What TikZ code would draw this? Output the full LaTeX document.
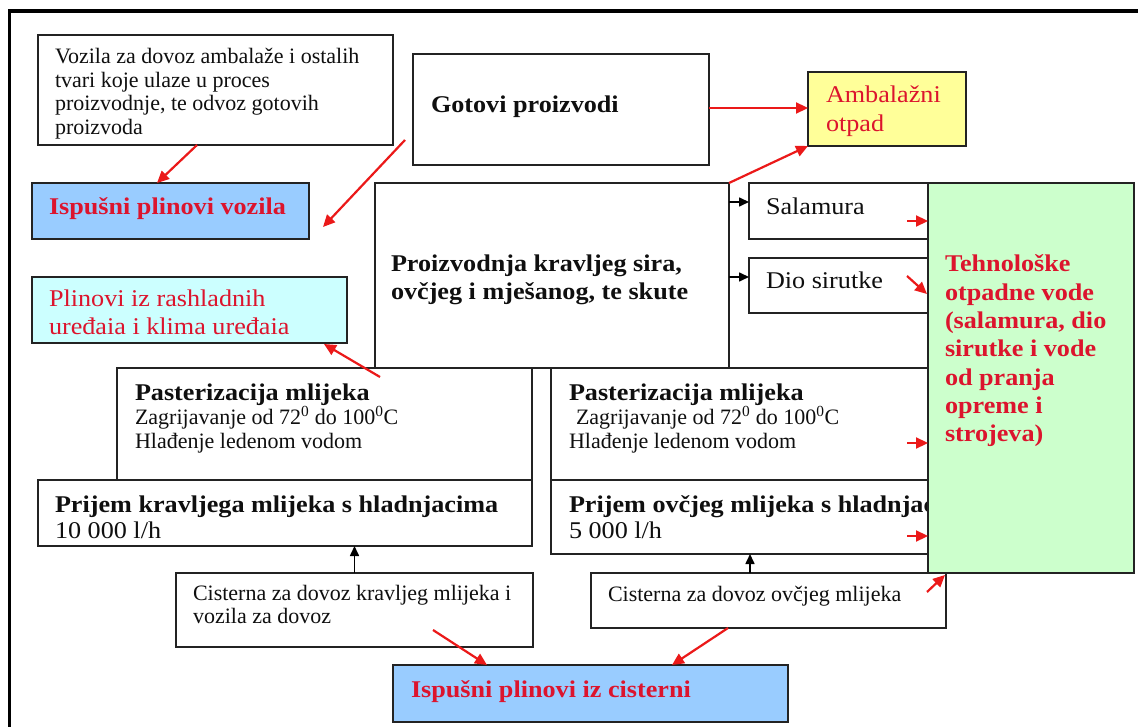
\documentclass[tikz,border=0pt]{standalone}
\usepackage{fontspec}
\setmainfont{Liberation Serif}
\newfontfamily\bigfam[FakeStretch=1.09]{Liberation Serif}
\usetikzlibrary{arrows.meta,calc}
\definecolor{bordc}{RGB}{35,35,35}
\definecolor{txtc}{RGB}{15,15,15}
\definecolor{redt}{RGB}{220,20,45}
\definecolor{arrr}{RGB}{235,25,25}
\definecolor{fblue}{RGB}{153,204,255}
\definecolor{fcyan}{RGB}{204,255,255}
\definecolor{fyel}{RGB}{255,255,153}
\definecolor{fgrn}{RGB}{204,255,204}
\newcommand\smf{\fontsize{22}{23.5}\selectfont}
\newcommand\bgf{\bigfam\fontsize{24}{28}\selectfont}
\newcommand\vlines[2]{\vtop{\baselineskip=#1pt\lineskiplimit=-100pt\relax #2}}
\tikzset{
  bx/.style={draw=bordc, line width=1.8pt, rectangle, inner sep=0pt, outer sep=0pt, anchor=north west},
  sz/.style 2 args={minimum width=#1pt, minimum height=#2pt},
  txt/.style={anchor=base west, inner sep=0pt, outer sep=0pt, text=txtc},
  rtxt/.style={txt, text=redt},
  rarr/.style={draw=arrr, line width=2.2pt, -{Triangle[length=12pt,width=11pt]}},
  barr/.style={draw=black, line width=1.6pt, -{Triangle[length=10pt,width=9pt]}},
}
\begin{document}
\begin{tikzpicture}[x=1pt,y=-1pt]
\useasboundingbox (0,0) rectangle (1138,727);
\fill[white] (0,0) rectangle (1138,727);
% frame
\draw[line width=3.5pt] (9.5,727) -- (9.5,11) -- (1138,11);

% boxes
\node[bx, sz={355}{110}] (vozila) at (38,35) {};
\node[bx, sz={296}{111}] (gotovi) at (413,54) {};
\node[bx, sz={158}{74}, fill=fyel] (ambal) at (808,72) {};
\node[bx, sz={277}{56}, fill=fblue] (ispv) at (32,183) {};
\node[bx, sz={315}{66}, fill=fcyan] (plin) at (32,277) {};
\node[bx, sz={354}{185}] (main) at (375,183) {};
\node[bx, sz={179}{56}] (salam) at (749,183) {};
\node[bx, sz={179}{55}] (dio) at (749,258) {};
\node[bx, sz={415}{112}] (pastL) at (117,368) {};
\node[bx, sz={494}{66}] (prijL) at (38,480) {};
\node[bx, sz={377}{112}] (pastR) at (551,368) {};
\node[bx, sz={377}{74}] (prijR) at (551,480) {};
\node[bx, sz={357}{74}] (cistL) at (176,573) {};
\node[bx, sz={395}{57}, fill=fblue] (ispc) at (393,665) {};

% texts
\node[txt] (tvoz) at (55,64) {\smf\vlines{23.5}{\hbox{Vozila za dovoz ambalaže i ostalih}\hbox{tvari koje ulaze u proces}\hbox{proizvodnje, te odvoz gotovih}\hbox{proizvoda}}};
\node[txt] (tgot) at (431,113) {\bgf\bfseries Gotovi proizvodi};
\node[rtxt] (tamb) at (826,103) {\bgf\vlines{29}{\hbox{Ambalažni}\hbox{otpad}}};
\node[rtxt] (tispv) at (49,215) {\bgf\bfseries Ispušni plinovi vozila};
\node[rtxt] (tplin) at (49,307) {\bgf\vlines{28}{\hbox{Plinovi iz rashladnih}\hbox{uređaia i klima uređaia}}};
\node[txt] (tmain) at (391,272) {\bgf\bfseries\vlines{28}{\hbox{Proizvodnja kravljeg sira,}\hbox{ovčjeg i mješanog, te skute}}};
\node[txt] (tsal) at (766,215) {\bgf Salamura};
\node[txt] (tdio) at (766,289) {\bgf Dio sirutke};
\node[txt] (tpl1) at (135,400) {\bgf\bfseries Pasterizacija mlijeka};
\node[txt] (tpl2) at (135,424) {\smf\vlines{24}{\hbox{Zagrijavanje od 72\textsuperscript{0} do 100\textsuperscript{0}C}\hbox{Hlađenje ledenom vodom}}};
\node[txt] (tpk1) at (55,512) {\bgf\bfseries Prijem kravljega mlijeka s hladnjacima};
\node[txt] (tpk2) at (55,538) {\bgf 10 000 l/h};
\node[txt] (tpr1) at (569,400) {\bgf\bfseries Pasterizacija mlijeka};
\node[txt] (tpr2) at (569,424) {\smf\vlines{24}{\hbox{\kern7pt Zagrijavanje od 72\textsuperscript{0} do 100\textsuperscript{0}C}\hbox{Hlađenje ledenom vodom}}};
\node[txt] (tpo1) at (569,512) {\bgf\bfseries Prijem ovčjeg mlijeka s hladnjacima};
\node[txt] (tpo2) at (569,538) {\bgf 5 000 l/h};
\node[txt] (tcl) at (193,600) {\smf\vlines{23.5}{\hbox{Cisterna za dovoz kravljeg mlijeka i}\hbox{vozila za dovoz}}};
\node[rtxt] (tispc) at (411,697) {\bgf\bfseries Ispušni plinovi iz cisterni};

% green box on top
\node[bx, sz={206}{390}, fill=fgrn] (green) at (928,183) {};
\node[rtxt] (tgrn) at (945,272) {\bgf\bfseries\vlines{28.3}{\hbox{Tehnološke}\hbox{otpadne vode}\hbox{(salamura, dio}\hbox{sirutke i vode}\hbox{od pranja}\hbox{opreme i}\hbox{strojeva)}}};

\node[bx, sz={355}{55}] (cistR) at (591,573) {};
\node[txt] (tcr) at (608,601) {\smf Cisterna za dovoz ovčjeg mlijeka};

% connectors
\draw[rarr] ([xshift=-18.5pt]vozila.south) -- ([xshift=-13.5pt]ispv.north);
\draw[rarr] ([xshift=-8pt,yshift=-30.5pt]gotovi.west) -- ([xshift=14pt,yshift=-16pt]ispv.east);
\coordinate (g1) at ([yshift=1.5pt]gotovi.east);
\draw[rarr] (g1) -- (g1 -| ambal.west);
\draw[rarr] (main.north east) -- (ambal.south west);
\coordinate (s1) at ([yshift=9pt]salam.west);
\coordinate (d1) at ([yshift=8.5pt]dio.west);
\draw[barr] (s1 -| main.east) -- (s1);
\draw[barr] (d1 -| main.east) -- (d1);
\draw[rarr] ([xshift=-21pt,yshift=-10pt]salam.east) -- ([yshift=-10pt]salam.east);
\draw[rarr] ([xshift=-21pt,yshift=9.5pt]dio.east) -- ([xshift=-1pt,yshift=-8.5pt]dio.east);
\draw[rarr] ([xshift=-21pt,yshift=-19pt]pastR.east) -- ([yshift=-19pt]pastR.east);
\draw[rarr] ([xshift=-21pt,yshift=-19pt]prijR.east) -- ([yshift=-19pt]prijR.east);
\draw[barr] (cistL.north) -- (cistL.north |- prijL.south);
\coordinate (c2) at ([xshift=-18.5pt]cistR.north);
\draw[barr] (c2) -- (c2 |- prijR.south);
\draw[rarr] ([xshift=-19pt,yshift=-19pt]cistR.north east) -- ([xshift=17pt,yshift=-2pt]green.south west);
\draw[rarr] ([xshift=78.5pt,yshift=17pt]cistL.south) -- ([xshift=-103.5pt]ispc.north);
\draw[rarr] ([xshift=-40.5pt]cistR.south) -- ([xshift=81.5pt]ispc.north);
\draw[rarr] ([xshift=5pt,yshift=-9pt]main.south west) -- ([xshift=-23pt,yshift=-1pt]plin.south east);
\end{tikzpicture}
\end{document}
